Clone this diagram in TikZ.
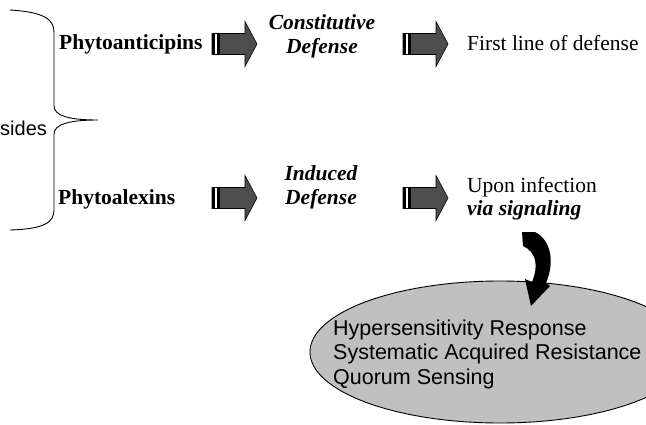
\documentclass[tikz,border=0pt]{standalone}
\usepackage{fontspec}
\setmainfont{Liberation Serif}
\newfontfamily\arialfont{Liberation Sans}
\usetikzlibrary{positioning,shapes.geometric}
\definecolor{arrowgray}{HTML}{4D4D4D}
\definecolor{ovalgray}{HTML}{C0C0C0}
\tikzset{
  plain/.style={inner sep=0pt,font=\fontsize{21.5}{23.5}\selectfont},
  compound/.style={inner sep=0pt,font=\fontsize{21.5}{23.5}\selectfont\bfseries},
  defense/.style={inner sep=0pt,align=center,font=\fontsize{21.5}{23.5}\selectfont\bfseries\itshape},
  sans/.style={inner sep=0pt,align=left,font=\arialfont\fontsize{21.5}{24.5}\selectfont},
  oval/.style={ellipse,draw=black,fill=ovalgray,line width=.9pt,inner sep=0pt,minimum width=380pt,minimum height=142pt},
  blockarrow/.pic={
    \filldraw[fill=arrowgray,draw=black,line width=.6pt]
      (0,-10.5) -- (33,-10.5) -- (33,-22.5) -- (45,0) -- (33,22.5) -- (33,10.5) -- (0,10.5) -- cycle;
    \fill[black] (0,-10.5) rectangle (8,10.5);
    \fill[white] (3,-10) rectangle (5,10);
  },
}
\begin{document}
\begin{tikzpicture}[x=1pt,y=-1pt]
  \path[use as bounding box,clip] (0,0) rectangle (646,424);
  % left brace and its label
  \node[sans,font=\arialfont\fontsize{20}{24}\selectfont,anchor=base west] (sides) at (0,135) {sides};
  \draw[line width=.9pt] (10,10) .. controls (45,12) and (54,20) .. (54,32) -- (54,106)
    .. controls (54,116) and (70,120) .. (98,120) .. controls (70,120) and (54,124) .. (54,134)
    -- (54,210) .. controls (54,222) and (45,229) .. (10,230);
  % upper row
  \node[compound,anchor=base west] (antic) at (59,49) {Phytoanticipins};
  \node[defense] (const) at (322,36.5) {Constitutive\\Defense};
  \node[plain,anchor=base west] (first) at (467,50) {First line of defense};
  \pic (arrA) at (212,44) {blockarrow};
  \pic (arrB) at (403,44) {blockarrow};
  % lower row
  \node[compound,anchor=base west] (alex) at (58,204) {Phytoalexins};
  \node[defense] (induced) at (321,187.5) {Induced\\Defense};
  \node[plain,anchor=west,align=left] (signal) at (467,198.5) {Upon infection\\\textbf{\textit{via signaling}}};
  \pic (arrC) at (212,198) {blockarrow};
  \pic (arrD) at (403,198) {blockarrow};
  % responses
  \node[oval] (resp) at (500,352) {};
  \node[sans,anchor=west] (resptext) at (333,354) {Hypersensitivity Response\\Systematic Acquired Resistance\\Quorum Sensing};
  % curved arrow into the oval
  \fill[black] (522,232) -- (535,232) .. controls (551,240) and (555,262) .. (546,283)
    -- (550,286) -- (531,306) -- (525,279) -- (532,282)
    .. controls (539,265) and (536,252) .. (523,246) -- cycle;
\end{tikzpicture}
\end{document}
